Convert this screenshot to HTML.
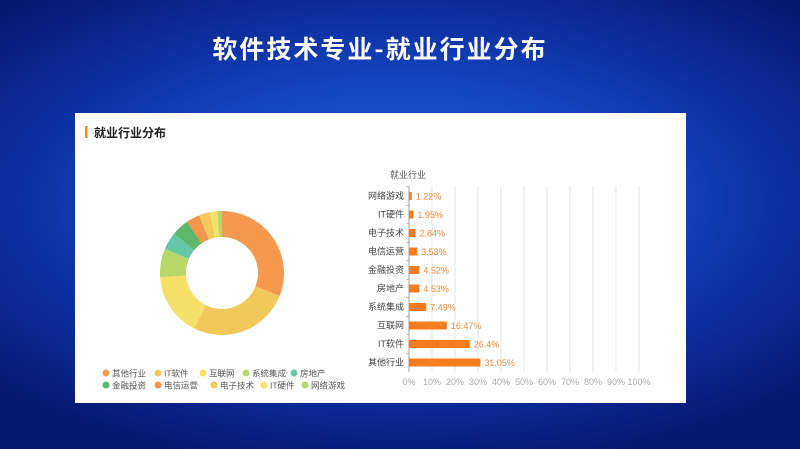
<!DOCTYPE html>
<html><head><meta charset="utf-8"><style>
html,body{margin:0;padding:0}
body{width:800px;height:449px;overflow:hidden;position:relative;font-family:"Liberation Sans","Noto Sans CJK SC",sans-serif;
background:radial-gradient(ellipse 70% 60% at 50% 45%,#1e5fd8 0%,#1444c0 45%,#0a2690 80%,#06196e 100%);}
.title{position:absolute;left:-20px;width:800px;top:30px;text-align:center;color:#fff;font-size:25px;font-weight:bold;letter-spacing:2px;font-family:"Noto Sans CJK SC",sans-serif}
.card{position:absolute;left:75px;top:113px;width:611px;height:290px;background:#fff}
</style></head><body>
<div class="title">软件技术专业-就业行业分布</div>
<div class="card"></div>
<svg width="800" height="449" style="position:absolute;left:0;top:0" id="s" font-family="Liberation Sans, Noto Sans CJK SC, sans-serif">
<rect x="85" y="126" width="2.5" height="12" fill="#f08a24"/>
<text x="94" y="137" font-size="12" font-weight="bold" fill="#222">就业行业分布</text>
<text x="390" y="178" font-size="9" fill="#555">就业行业</text>
<g id="g"></g>
</svg>
<script>
var g=document.getElementById('g'),h='';
var names=['其他行业','IT软件','互联网','系统集成','房地产','金融投资','电信运营','电子技术','IT硬件','网络游戏'];
var vals=[31.05,26.4,16.47,7.49,4.53,4.52,3.53,2.84,1.95,1.22];
var cols=['#f5994e','#f3c85b','#f5e06a','#b7d769','#66c7a8','#5cb868','#f6944e','#f3c85b','#f5e06a','#b7d769'];
var tot=vals.reduce((a,b)=>a+b),a=0,cx=222,cy=273,R=62,r=36;
function p(rad,ang){return [cx+rad*Math.sin(ang),cy-rad*Math.cos(ang)];}
vals.forEach((v,i)=>{var a1=a+v/tot*2*Math.PI,l=(a1-a)>Math.PI?1:0;
var A=p(R,a),B=p(R,a1),C=p(r,a1),D=p(r,a);
h+=`<path d="M${A} A${R} ${R} 0 ${l} 1 ${B} L${C} A${r} ${r} 0 ${l} 0 ${D}Z" fill="${cols[i]}"/>`;a=a1;});
var lx=[[106,158,203,246,294],[106,158,214,264,305]];
names.forEach((n,i)=>{var row=i<5?0:1,x=lx[row][i%5],y=row?388:376;
h+=`<circle cx="${x}" cy="${y-3}" r="3.5" fill="${cols[i]}"/><text x="${x+6}" y="${y+0.5}" font-size="8.5" fill="#555">${n}</text>`;});
var x0=409,sc=2.3;
for(var k=0;k<=10;k++){var x=x0+k*10*sc;
if(k>0)h+=`<line x1="${x}" y1="186" x2="${x}" y2="372" stroke="#ddd" stroke-width="0.8"/>`;
h+=`<text x="${x}" y="385" font-size="9" fill="#aaa" text-anchor="middle">${k*10}%</text>`;}
h+=`<line x1="${x0}" y1="186" x2="${x0}" y2="372" stroke="#888" stroke-width="0.8"/>`;
for(var j=0;j<10;j++){var i=9-j,y=196+j*18.5;
h+=`<line x1="${x0-3}" y1="${y-9.25}" x2="${x0}" y2="${y-9.25}" stroke="#888" stroke-width="0.6"/>`;
h+=`<rect x="${x0}" y="${y-4}" width="${vals[i]*sc}" height="8" fill="#f57c1f"/>`;
h+=`<text x="${x0-5}" y="${y+3}" font-size="9" fill="#444" text-anchor="end">${names[i]}</text>`;
h+=`<text x="${x0+vals[i]*sc+4}" y="${y+3.5}" font-size="9" fill="#f08a3a">${vals[i]}%</text>`;}
g.innerHTML=h;
</script>
</body></html>
